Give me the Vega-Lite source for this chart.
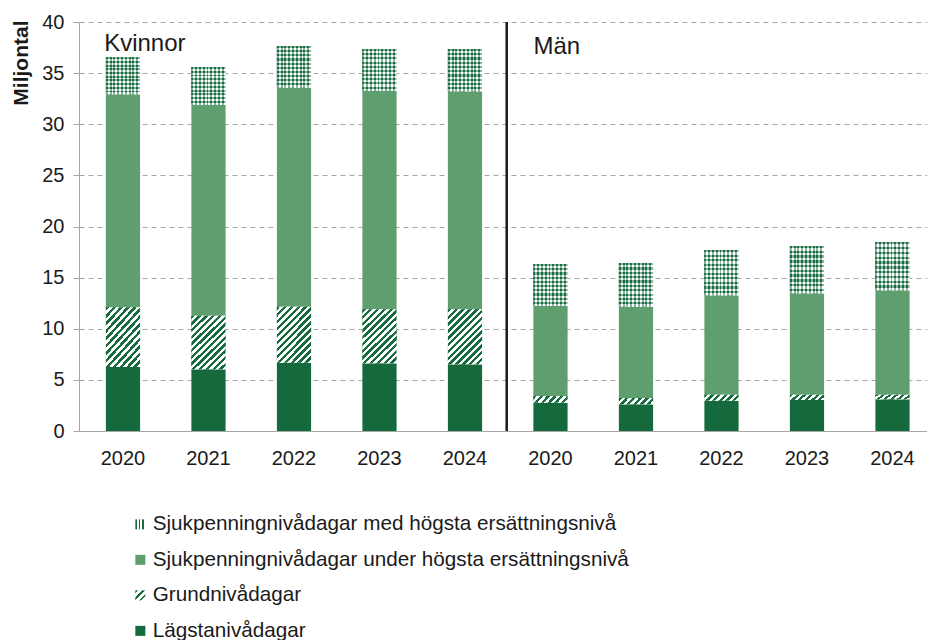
{
  "$schema": "https://vega.github.io/schema/vega-lite/v6.json",
  "width": 848,
  "height": 409,
  "autosize": {"type": "none"},
  "padding": {"left": 79, "top": 22, "right": 0, "bottom": 209},
  "background": "white",
  "config": {"view": {"stroke": null}, "font": "Liberation Sans"},
  "datasets": {
    "bars": [
      {"group": "Kvinnor", "bar": "Kvinnor 2020", "category": "Lägstanivådagar", "value": 6.26},
      {"group": "Kvinnor", "bar": "Kvinnor 2020", "category": "Grundnivådagar", "value": 5.84},
      {"group": "Kvinnor", "bar": "Kvinnor 2020", "category": "Sjukpenningnivådagar under högsta ersättningsnivå", "value": 20.83},
      {"group": "Kvinnor", "bar": "Kvinnor 2020", "category": "Sjukpenningnivådagar med högsta ersättningsnivå", "value": 3.62},
      {"group": "Kvinnor", "bar": "Kvinnor 2021", "category": "Lägstanivådagar", "value": 6.03},
      {"group": "Kvinnor", "bar": "Kvinnor 2021", "category": "Grundnivådagar", "value": 5.25},
      {"group": "Kvinnor", "bar": "Kvinnor 2021", "category": "Sjukpenningnivådagar under högsta ersättningsnivå", "value": 20.62},
      {"group": "Kvinnor", "bar": "Kvinnor 2021", "category": "Sjukpenningnivådagar med högsta ersättningsnivå", "value": 3.70},
      {"group": "Kvinnor", "bar": "Kvinnor 2022", "category": "Lägstanivådagar", "value": 6.68},
      {"group": "Kvinnor", "bar": "Kvinnor 2022", "category": "Grundnivådagar", "value": 5.48},
      {"group": "Kvinnor", "bar": "Kvinnor 2022", "category": "Sjukpenningnivådagar under högsta ersättningsnivå", "value": 21.44},
      {"group": "Kvinnor", "bar": "Kvinnor 2022", "category": "Sjukpenningnivådagar med högsta ersättningsnivå", "value": 4.05},
      {"group": "Kvinnor", "bar": "Kvinnor 2023", "category": "Lägstanivådagar", "value": 6.62},
      {"group": "Kvinnor", "bar": "Kvinnor 2023", "category": "Grundnivådagar", "value": 5.28},
      {"group": "Kvinnor", "bar": "Kvinnor 2023", "category": "Sjukpenningnivådagar under högsta ersättningsnivå", "value": 21.38},
      {"group": "Kvinnor", "bar": "Kvinnor 2023", "category": "Sjukpenningnivådagar med högsta ersättningsnivå", "value": 4.08},
      {"group": "Kvinnor", "bar": "Kvinnor 2024", "category": "Lägstanivådagar", "value": 6.52},
      {"group": "Kvinnor", "bar": "Kvinnor 2024", "category": "Grundnivådagar", "value": 5.38},
      {"group": "Kvinnor", "bar": "Kvinnor 2024", "category": "Sjukpenningnivådagar under högsta ersättningsnivå", "value": 21.32},
      {"group": "Kvinnor", "bar": "Kvinnor 2024", "category": "Sjukpenningnivådagar med högsta ersättningsnivå", "value": 4.14},
      {"group": "Män", "bar": "Män 2020", "category": "Lägstanivådagar", "value": 2.77},
      {"group": "Män", "bar": "Män 2020", "category": "Grundnivådagar", "value": 0.65},
      {"group": "Män", "bar": "Män 2020", "category": "Sjukpenningnivådagar under högsta ersättningsnivå", "value": 8.80},
      {"group": "Män", "bar": "Män 2020", "category": "Sjukpenningnivådagar med högsta ersättningsnivå", "value": 4.11},
      {"group": "Män", "bar": "Män 2021", "category": "Lägstanivådagar", "value": 2.61},
      {"group": "Män", "bar": "Män 2021", "category": "Grundnivådagar", "value": 0.62},
      {"group": "Män", "bar": "Män 2021", "category": "Sjukpenningnivådagar under högsta ersättningsnivå", "value": 8.93},
      {"group": "Män", "bar": "Män 2021", "category": "Sjukpenningnivådagar med högsta ersättningsnivå", "value": 4.27},
      {"group": "Män", "bar": "Män 2022", "category": "Lägstanivådagar", "value": 2.97},
      {"group": "Män", "bar": "Män 2022", "category": "Grundnivådagar", "value": 0.58},
      {"group": "Män", "bar": "Män 2022", "category": "Sjukpenningnivådagar under högsta ersättningsnivå", "value": 9.72},
      {"group": "Män", "bar": "Män 2022", "category": "Sjukpenningnivådagar med högsta ersättningsnivå", "value": 4.43},
      {"group": "Män", "bar": "Män 2023", "category": "Lägstanivådagar", "value": 3.03},
      {"group": "Män", "bar": "Män 2023", "category": "Grundnivådagar", "value": 0.52},
      {"group": "Män", "bar": "Män 2023", "category": "Sjukpenningnivådagar under högsta ersättningsnivå", "value": 9.91},
      {"group": "Män", "bar": "Män 2023", "category": "Sjukpenningnivådagar med högsta ersättningsnivå", "value": 4.63},
      {"group": "Män", "bar": "Män 2024", "category": "Lägstanivådagar", "value": 3.10},
      {"group": "Män", "bar": "Män 2024", "category": "Grundnivådagar", "value": 0.45},
      {"group": "Män", "bar": "Män 2024", "category": "Sjukpenningnivådagar under högsta ersättningsnivå", "value": 10.21},
      {"group": "Män", "bar": "Män 2024", "category": "Sjukpenningnivådagar med högsta ersättningsnivå", "value": 4.72}
    ],
    "categories": [
      {"category": "Lägstanivådagar", "rank": 1},
      {"category": "Grundnivådagar", "rank": 2},
      {"category": "Sjukpenningnivådagar under högsta ersättningsnivå", "rank": 3},
      {"category": "Sjukpenningnivådagar med högsta ersättningsnivå", "rank": 4}
    ]
  },
  "layer": [
    {
      "data": {"name": "bars"},
      "transform": [
        {"lookup": "category", "from": {"data": {"name": "categories"}, "key": "category", "fields": ["rank"]}},
        {"stack": "value", "groupby": ["bar"], "sort": [{"field": "rank", "order": "ascending"}], "as": ["v0", "v1"]}
      ],
      "encoding": {
        "x": {
          "field": "bar", "type": "nominal", "title": null,
          "scale": {
            "domain": ["Kvinnor 2020", "Kvinnor 2021", "Kvinnor 2022", "Kvinnor 2023", "Kvinnor 2024", "Män 2020", "Män 2021", "Män 2022", "Män 2023", "Män 2024"],
            "paddingInner": 0.6, "paddingOuter": 0.259, "align": 0.607
          },
          "axis": {
            "labelExpr": "slice(datum.label, -4)", "labelAngle": 0, "ticks": false, "tickSize": 0,
            "labelPadding": 17, "labelFontSize": 20, "labelColor": "#1a1a1a", "labelFont": "Liberation Sans",
            "domainColor": "#a6a6a6", "domainWidth": 1, "grid": false, "title": null
          }
        },
        "y": {
          "field": "v1", "type": "quantitative", "title": "Miljontal",
          "scale": {"domain": [0, 40], "nice": false, "zero": true},
          "axis": {
            "values": [0, 5, 10, 15, 20, 25, 30, 35, 40],
            "grid": true, "gridDash": [5, 4], "gridColor": "#a6a6a6", "gridWidth": 1,
            "domainColor": "#a6a6a6", "tickColor": "#a6a6a6", "tickSize": 6,
            "labelFontSize": 20, "labelColor": "#1a1a1a", "labelPadding": 9, "labelFont": "Liberation Sans",
            "titleFontSize": 21, "titleFontWeight": "bold", "titleColor": "#1a1a1a", "titleFont": "Liberation Sans",
            "titleAngle": -90, "titleX": -58, "titleY": -2, "titleAlign": "right", "titleBaseline": "middle"
          }
        },
        "y2": {"field": "v0"}
      },
      "layer": [
        {
          "mark": {"type": "bar"},
          "encoding": {
            "color": {
              "field": "category", "type": "nominal",
              "scale": {
                "domain": ["Sjukpenningnivådagar med högsta ersättningsnivå", "Sjukpenningnivådagar under högsta ersättningsnivå", "Grundnivådagar", "Lägstanivådagar"],
                "range": [
                  {"expr": "{gradient:'linear',x1:0,y1:0,x2:1,y2:0,stops:[{offset:0,color:'#176c3f'},{offset:0.1667,color:'#176c3f'},{offset:0.1667,color:'#ffffff'},{offset:0.3333,color:'#ffffff'},{offset:0.3333,color:'#176c3f'},{offset:0.5,color:'#176c3f'},{offset:0.5,color:'#ffffff'},{offset:0.6667,color:'#ffffff'},{offset:0.6667,color:'#176c3f'},{offset:0.8333,color:'#176c3f'},{offset:0.8333,color:'#ffffff'},{offset:1,color:'#ffffff'}]}"},
                  "#5f9e6e",
                  {"expr": "{gradient:'linear',x1:0,y1:0,x2:1,y2:1,stops:[{offset:0,color:'#176c3f'},{offset:0.14,color:'#176c3f'},{offset:0.14,color:'#ffffff'},{offset:0.333,color:'#ffffff'},{offset:0.333,color:'#176c3f'},{offset:0.473,color:'#176c3f'},{offset:0.473,color:'#ffffff'},{offset:0.667,color:'#ffffff'},{offset:0.667,color:'#176c3f'},{offset:0.807,color:'#176c3f'},{offset:0.807,color:'#ffffff'},{offset:1,color:'#ffffff'}]}"},
                  "#146a3d"
                ]
              },
              "legend": {
                "orient": "none", "legendX": 51, "legendY": 492, "title": null, "direction": "vertical",
                "symbolType": "square", "symbolSize": 100, "symbolStrokeWidth": 0,
                "labelFontSize": 20.7, "labelFont": "Liberation Sans", "labelColor": "#1a1a1a", "labelOffset": 2,
                "rowPadding": 13.5, "padding": 0, "labelLimit": 800
              }
            }
          }
        },
        {
          "transform": [{"filter": {"and": [{"field": "category", "equal": "Grundnivådagar"}, {"field": "group", "equal": "Kvinnor"}]}}],
          "mark": {
            "type": "bar",
            "fill": {
              "gradient": "linear", "x1": 0, "y1": 0, "x2": 0.7256, "y2": 1.167,
              "stops": [
                {"offset": 0, "color": "#176c3f"}, {"offset": 0.0385, "color": "#176c3f"}, {"offset": 0.0385, "color": "#ffffff"}, {"offset": 0.0769, "color": "#ffffff"},
                {"offset": 0.0769, "color": "#176c3f"}, {"offset": 0.1154, "color": "#176c3f"}, {"offset": 0.1154, "color": "#ffffff"}, {"offset": 0.1538, "color": "#ffffff"},
                {"offset": 0.1538, "color": "#176c3f"}, {"offset": 0.1923, "color": "#176c3f"}, {"offset": 0.1923, "color": "#ffffff"}, {"offset": 0.2308, "color": "#ffffff"},
                {"offset": 0.2308, "color": "#176c3f"}, {"offset": 0.2692, "color": "#176c3f"}, {"offset": 0.2692, "color": "#ffffff"}, {"offset": 0.3077, "color": "#ffffff"},
                {"offset": 0.3077, "color": "#176c3f"}, {"offset": 0.3462, "color": "#176c3f"}, {"offset": 0.3462, "color": "#ffffff"}, {"offset": 0.3846, "color": "#ffffff"},
                {"offset": 0.3846, "color": "#176c3f"}, {"offset": 0.4231, "color": "#176c3f"}, {"offset": 0.4231, "color": "#ffffff"}, {"offset": 0.4615, "color": "#ffffff"},
                {"offset": 0.4615, "color": "#176c3f"}, {"offset": 0.5, "color": "#176c3f"}, {"offset": 0.5, "color": "#ffffff"}, {"offset": 0.5385, "color": "#ffffff"},
                {"offset": 0.5385, "color": "#176c3f"}, {"offset": 0.5769, "color": "#176c3f"}, {"offset": 0.5769, "color": "#ffffff"}, {"offset": 0.6154, "color": "#ffffff"},
                {"offset": 0.6154, "color": "#176c3f"}, {"offset": 0.6538, "color": "#176c3f"}, {"offset": 0.6538, "color": "#ffffff"}, {"offset": 0.6923, "color": "#ffffff"},
                {"offset": 0.6923, "color": "#176c3f"}, {"offset": 0.7308, "color": "#176c3f"}, {"offset": 0.7308, "color": "#ffffff"}, {"offset": 0.7692, "color": "#ffffff"},
                {"offset": 0.7692, "color": "#176c3f"}, {"offset": 0.8077, "color": "#176c3f"}, {"offset": 0.8077, "color": "#ffffff"}, {"offset": 0.8462, "color": "#ffffff"},
                {"offset": 0.8462, "color": "#176c3f"}, {"offset": 0.8846, "color": "#176c3f"}, {"offset": 0.8846, "color": "#ffffff"}, {"offset": 0.9231, "color": "#ffffff"},
                {"offset": 0.9231, "color": "#176c3f"}, {"offset": 0.9615, "color": "#176c3f"}, {"offset": 0.9615, "color": "#ffffff"}, {"offset": 1, "color": "#ffffff"}
              ]
            }
          }
        },
        {
          "transform": [{"filter": {"and": [{"field": "category", "equal": "Grundnivådagar"}, {"field": "group", "equal": "Män"}]}}],
          "mark": {
            "type": "bar",
            "fill": {
              "gradient": "linear", "x1": 0, "y1": 0, "x2": 1.14, "y2": 0.2,
              "stops": [
                {"offset": 0, "color": "#176c3f"}, {"offset": 0.0833, "color": "#176c3f"}, {"offset": 0.0833, "color": "#ffffff"}, {"offset": 0.1667, "color": "#ffffff"},
                {"offset": 0.1667, "color": "#176c3f"}, {"offset": 0.25, "color": "#176c3f"}, {"offset": 0.25, "color": "#ffffff"}, {"offset": 0.3333, "color": "#ffffff"},
                {"offset": 0.3333, "color": "#176c3f"}, {"offset": 0.4167, "color": "#176c3f"}, {"offset": 0.4167, "color": "#ffffff"}, {"offset": 0.5, "color": "#ffffff"},
                {"offset": 0.5, "color": "#176c3f"}, {"offset": 0.5833, "color": "#176c3f"}, {"offset": 0.5833, "color": "#ffffff"}, {"offset": 0.6667, "color": "#ffffff"},
                {"offset": 0.6667, "color": "#176c3f"}, {"offset": 0.75, "color": "#176c3f"}, {"offset": 0.75, "color": "#ffffff"}, {"offset": 0.8333, "color": "#ffffff"},
                {"offset": 0.8333, "color": "#176c3f"}, {"offset": 0.9167, "color": "#176c3f"}, {"offset": 0.9167, "color": "#ffffff"}, {"offset": 1, "color": "#ffffff"}
              ]
            }
          }
        },
        {
          "transform": [{"filter": {"field": "category", "equal": "Sjukpenningnivådagar med högsta ersättningsnivå"}}],
          "mark": {
            "type": "bar",
            "fill": {
              "gradient": "linear", "x1": 0, "y1": 0, "x2": 1, "y2": 0,
              "stops": [
                {"offset": 0, "color": "#176c3f"}, {"offset": 0.0556, "color": "#176c3f"}, {"offset": 0.0556, "color": "#ffffff"}, {"offset": 0.1111, "color": "#ffffff"},
                {"offset": 0.1111, "color": "#176c3f"}, {"offset": 0.1667, "color": "#176c3f"}, {"offset": 0.1667, "color": "#ffffff"}, {"offset": 0.2222, "color": "#ffffff"},
                {"offset": 0.2222, "color": "#176c3f"}, {"offset": 0.2778, "color": "#176c3f"}, {"offset": 0.2778, "color": "#ffffff"}, {"offset": 0.3333, "color": "#ffffff"},
                {"offset": 0.3333, "color": "#176c3f"}, {"offset": 0.3889, "color": "#176c3f"}, {"offset": 0.3889, "color": "#ffffff"}, {"offset": 0.4444, "color": "#ffffff"},
                {"offset": 0.4444, "color": "#176c3f"}, {"offset": 0.5, "color": "#176c3f"}, {"offset": 0.5, "color": "#ffffff"}, {"offset": 0.5556, "color": "#ffffff"},
                {"offset": 0.5556, "color": "#176c3f"}, {"offset": 0.6111, "color": "#176c3f"}, {"offset": 0.6111, "color": "#ffffff"}, {"offset": 0.6667, "color": "#ffffff"},
                {"offset": 0.6667, "color": "#176c3f"}, {"offset": 0.7222, "color": "#176c3f"}, {"offset": 0.7222, "color": "#ffffff"}, {"offset": 0.7778, "color": "#ffffff"},
                {"offset": 0.7778, "color": "#176c3f"}, {"offset": 0.8333, "color": "#176c3f"}, {"offset": 0.8333, "color": "#ffffff"}, {"offset": 0.8889, "color": "#ffffff"},
                {"offset": 0.8889, "color": "#176c3f"}, {"offset": 0.9444, "color": "#176c3f"}, {"offset": 0.9444, "color": "#ffffff"}, {"offset": 1, "color": "#ffffff"}
              ]
            }
          }
        },
        {
          "transform": [{"filter": {"field": "category", "equal": "Sjukpenningnivådagar med högsta ersättningsnivå"}}],
          "mark": {
            "type": "bar",
            "fill": {
              "gradient": "linear", "x1": 0, "y1": 0, "x2": 0, "y2": 1,
              "stops": [
                {"offset": 0, "color": "rgba(23,108,63,0.5)"}, {"offset": 0.05, "color": "rgba(23,108,63,0.5)"}, {"offset": 0.05, "color": "rgba(255,255,255,0.5)"}, {"offset": 0.1, "color": "rgba(255,255,255,0.5)"},
                {"offset": 0.1, "color": "rgba(23,108,63,0.5)"}, {"offset": 0.15, "color": "rgba(23,108,63,0.5)"}, {"offset": 0.15, "color": "rgba(255,255,255,0.5)"}, {"offset": 0.2, "color": "rgba(255,255,255,0.5)"},
                {"offset": 0.2, "color": "rgba(23,108,63,0.5)"}, {"offset": 0.25, "color": "rgba(23,108,63,0.5)"}, {"offset": 0.25, "color": "rgba(255,255,255,0.5)"}, {"offset": 0.3, "color": "rgba(255,255,255,0.5)"},
                {"offset": 0.3, "color": "rgba(23,108,63,0.5)"}, {"offset": 0.35, "color": "rgba(23,108,63,0.5)"}, {"offset": 0.35, "color": "rgba(255,255,255,0.5)"}, {"offset": 0.4, "color": "rgba(255,255,255,0.5)"},
                {"offset": 0.4, "color": "rgba(23,108,63,0.5)"}, {"offset": 0.45, "color": "rgba(23,108,63,0.5)"}, {"offset": 0.45, "color": "rgba(255,255,255,0.5)"}, {"offset": 0.5, "color": "rgba(255,255,255,0.5)"},
                {"offset": 0.5, "color": "rgba(23,108,63,0.5)"}, {"offset": 0.55, "color": "rgba(23,108,63,0.5)"}, {"offset": 0.55, "color": "rgba(255,255,255,0.5)"}, {"offset": 0.6, "color": "rgba(255,255,255,0.5)"},
                {"offset": 0.6, "color": "rgba(23,108,63,0.5)"}, {"offset": 0.65, "color": "rgba(23,108,63,0.5)"}, {"offset": 0.65, "color": "rgba(255,255,255,0.5)"}, {"offset": 0.7, "color": "rgba(255,255,255,0.5)"},
                {"offset": 0.7, "color": "rgba(23,108,63,0.5)"}, {"offset": 0.75, "color": "rgba(23,108,63,0.5)"}, {"offset": 0.75, "color": "rgba(255,255,255,0.5)"}, {"offset": 0.8, "color": "rgba(255,255,255,0.5)"},
                {"offset": 0.8, "color": "rgba(23,108,63,0.5)"}, {"offset": 0.85, "color": "rgba(23,108,63,0.5)"}, {"offset": 0.85, "color": "rgba(255,255,255,0.5)"}, {"offset": 0.9, "color": "rgba(255,255,255,0.5)"},
                {"offset": 0.9, "color": "rgba(23,108,63,0.5)"}, {"offset": 0.95, "color": "rgba(23,108,63,0.5)"}, {"offset": 0.95, "color": "rgba(255,255,255,0.5)"}, {"offset": 1, "color": "rgba(255,255,255,0.5)"}
              ]
            }
          }
        }
      ]
    },
    {
      "data": {"values": [{}]},
      "mark": {"type": "text", "text": "Kvinnor", "fontSize": 24, "font": "Liberation Sans", "color": "#1a1a1a", "align": "left", "baseline": "alphabetic"},
      "encoding": {
        "x": {"datum": "Kvinnor 2020", "type": "nominal", "bandPosition": -0.05},
        "y": {"datum": 37.2, "type": "quantitative"}
      }
    },
    {
      "data": {"values": [{}]},
      "mark": {"type": "text", "text": "Män", "fontSize": 24, "font": "Liberation Sans", "color": "#1a1a1a", "align": "left", "baseline": "alphabetic"},
      "encoding": {
        "x": {"datum": "Män 2020", "type": "nominal", "bandPosition": 0},
        "y": {"datum": 36.87, "type": "quantitative"}
      }
    },
    {
      "data": {"values": [{}]},
      "mark": {"type": "rule", "color": "#1a1a1a", "strokeWidth": 2.5},
      "encoding": {
        "x": {"datum": "Män 2020", "type": "nominal", "bandPosition": -0.78},
        "y": {"datum": 0, "type": "quantitative"},
        "y2": {"datum": 40}
      }
    }
  ]
}
